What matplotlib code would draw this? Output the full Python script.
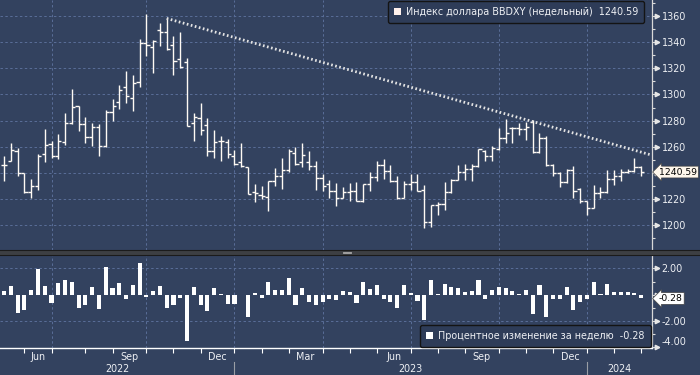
import numpy as np
import pandas as pd
import matplotlib
matplotlib.use('Agg')
import matplotlib.pyplot as plt
import matplotlib.transforms as mtransforms
from matplotlib.patches import Patch, Rectangle
from matplotlib.lines import Line2D

# недельные бары BBDXY, первый бар 13.05.2022
start_date = '2022-05-13'
opens = [1245.6, 1249.2, 1256.5, 1239.7, 1225.0, 1230.1, 1254.5, 1261.9, 1253.0, 1263.4,
         1278.0, 1290.9, 1277.2, 1267.3, 1275.2, 1260.9, 1286.4, 1294.0, 1305.5, 1297.1,
         1309.6, 1339.1, 1336.0, 1349.3, 1348.0, 1337.6, 1326.9, 1325.1, 1278.5, 1281.8,
         1276.4, 1256.5, 1264.2, 1263.4, 1253.0, 1248.1, 1244.1, 1225.5, 1223.2, 1221.4,
         1234.1, 1237.7, 1242.3, 1255.5, 1248.1, 1248.1, 1245.3, 1236.4, 1231.6, 1226.2,
         1221.1, 1225.0, 1226.2, 1218.8, 1231.6, 1236.7, 1246.1, 1241.5, 1233.4, 1221.1,
         1231.6, 1232.9, 1227.0, 1202.5, 1215.0, 1216.0, 1225.0, 1234.6, 1240.5, 1242.8,
         1245.3, 1256.8, 1253.2, 1258.1, 1266.5, 1274.1, 1274.1, 1273.4, 1279.2, 1256.0,
         1267.0, 1245.6, 1239.7, 1232.6, 1241.8, 1227.5, 1218.1, 1213.0, 1224.4, 1225.0,
         1235.1, 1237.7, 1241.0, 1241.5, 1244.6]
highs = [1253.0, 1262.7, 1259.1, 1240.0, 1235.1, 1254.5, 1273.6, 1264.4, 1269.8, 1286.1,
         1304.2, 1291.2, 1282.8, 1278.0, 1277.2, 1288.1, 1296.3, 1307.3, 1318.0, 1314.9,
         1342.2, 1361.5, 1341.7, 1354.4, 1358.2, 1344.7, 1347.8, 1327.6, 1285.6, 1293.2,
         1282.3, 1272.9, 1268.3, 1266.0, 1257.6, 1262.7, 1244.5, 1231.6, 1230.1, 1234.1,
         1243.5, 1251.2, 1258.1, 1259.4, 1262.7, 1256.8, 1248.7, 1239.2, 1234.6, 1232.1,
         1228.8, 1232.3, 1232.9, 1231.6, 1241.0, 1249.4, 1250.4, 1246.1, 1237.2, 1234.1,
         1239.0, 1239.0, 1230.3, 1215.5, 1217.6, 1232.9, 1235.0, 1246.1, 1246.6, 1246.6,
         1258.5, 1257.6, 1260.6, 1274.1, 1281.0, 1275.4, 1278.0, 1279.2, 1280.5, 1270.3,
         1268.3, 1246.9, 1241.0, 1242.8, 1245.3, 1228.3, 1218.8, 1230.8, 1229.5, 1242.3,
         1242.3, 1242.8, 1243.0, 1251.3, 1245.1]
lows = [1233.4, 1248.7, 1237.2, 1224.4, 1221.1, 1227.0, 1247.9, 1251.7, 1250.2, 1261.4,
        1277.5, 1272.3, 1263.2, 1260.6, 1253.2, 1260.1, 1280.0, 1288.9, 1293.8, 1287.6,
        1306.0, 1329.7, 1316.2, 1337.1, 1334.0, 1314.9, 1320.0, 1275.6, 1264.7, 1269.0,
        1253.2, 1251.7, 1249.2, 1251.7, 1245.9, 1244.8, 1223.5, 1217.3, 1219.9, 1210.4,
        1230.1, 1227.8, 1241.0, 1246.3, 1244.8, 1241.8, 1227.0, 1226.2, 1220.6, 1214.3,
        1220.8, 1218.8, 1218.5, 1217.3, 1226.2, 1234.1, 1235.1, 1232.9, 1219.9, 1220.8,
        1227.0, 1225.7, 1197.7, 1198.9, 1207.4, 1211.7, 1224.8, 1234.3, 1234.6, 1234.1,
        1244.8, 1249.2, 1249.2, 1257.6, 1263.2, 1262.7, 1269.0, 1265.2, 1254.9, 1254.9,
        1245.3, 1237.2, 1229.0, 1232.1, 1220.6, 1216.8, 1207.9, 1212.8, 1220.6, 1224.8,
        1230.3, 1234.1, 1239.5, 1240.8, 1237.2]
closes = [1246.1, 1257.3, 1239.7, 1225.0, 1230.1, 1253.0, 1261.4, 1253.2, 1264.4, 1278.0,
          1290.4, 1277.2, 1267.3, 1275.2, 1260.4, 1286.4, 1291.5, 1303.2, 1298.6, 1308.8,
          1339.1, 1337.6, 1340.6, 1348.0, 1335.0, 1325.3, 1321.3, 1275.7, 1282.5, 1272.9,
          1256.5, 1263.4, 1264.0, 1254.5, 1246.6, 1245.3, 1223.9, 1224.7, 1222.4, 1233.4,
          1237.7, 1242.3, 1256.5, 1246.6, 1253.7, 1245.3, 1236.4, 1230.1, 1226.2, 1221.1,
          1225.0, 1226.2, 1218.8, 1231.1, 1236.7, 1246.1, 1241.5, 1233.4, 1221.1, 1231.6,
          1232.9, 1226.2, 1202.5, 1215.0, 1216.0, 1225.0, 1234.6, 1240.5, 1242.8, 1245.3,
          1258.1, 1253.2, 1258.8, 1266.5, 1270.8, 1274.1, 1273.4, 1275.4, 1256.0, 1267.0,
          1245.6, 1239.7, 1232.6, 1241.8, 1226.2, 1218.1, 1213.0, 1224.4, 1225.0, 1235.1,
          1237.7, 1240.3, 1241.5, 1244.4, 1240.59]

# процентное изменение за неделю
pct_change = [0.31, 0.70, -1.38, -1.19, 0.39, 1.95, 0.70, -0.60, 0.91, 1.09,
              1.01, -0.99, -0.78, 0.62, -1.06, 2.10, 0.49, 0.88, -0.29, 0.78,
              2.42, -0.16, 0.26, 0.70, -0.99, -0.78, -0.21, -3.51, 0.57, -0.78,
              -1.22, 0.55, 0.08, -0.68, -0.68, -0.03, -1.69, 0.10, -0.21, 0.94,
              0.34, 0.39, 1.27, -0.78, 0.55, -0.55, -0.78, -0.55, -0.34, -0.39,
              0.29, 0.18, -0.60, 1.01, 0.44, 0.75, -0.29, -0.55, -0.99, 0.75,
              0.10, -0.49, -1.90, 1.09, 0.05, 0.83, 0.62, 0.55, 0.23, 0.29,
              1.09, -0.34, 0.39, 0.62, 0.49, 0.29, 0.05, 0.36, -1.45, 0.75,
              -1.69, -0.34, -0.34, 0.62, -1.19, -0.55, -0.34, 0.94, 0.05, 0.83,
              0.18, 0.23, 0.23, 0.10, -0.28]

# линия тренда: от максимума сентября 2022 до правого края
trend_start_bar = 24
trend_values = [1358.2, 1253.5]

last_close = '1240.59'
last_pct = '-0.28'
top_label = 'Индекс доллара BBDXY (недельный)  1240.59'
bottom_label = 'Процентное изменение за неделю  -0.28'

bg = '#33425f'
grid_c = '#5a6e98'
txt_c = '#eef0f4'
fs = 6.9

dates = pd.date_range(start_date, periods=len(closes), freq='7D')
x = np.arange(len(closes))
x_right = 95.6

fig = plt.figure(figsize=(7, 3.75), dpi=100, facecolor=bg)
ax = fig.add_axes([0, 0.3333, 0.9314, 0.6667], facecolor=bg)
ax2 = fig.add_axes([0, 0.072, 0.9314, 0.2493], facecolor=bg)

# первые бары месяцев
month_first = [i for i in range(1, len(dates)) if dates[i].month != dates[i - 1].month]
quarter_first = [i for i in month_first if dates[i].month in (1, 4, 7, 10)]
year_first = [i for i in month_first if dates[i].month == 1]

dash = (0, (2.5, 2.5))
for a in (ax, ax2):
    a.set_xlim(-0.6, x_right)
    for q in quarter_first:
        a.axvline(q, color=grid_c, lw=0.7, ls=dash, zorder=0)
    for s in ['left', 'top', 'bottom']:
        a.spines[s].set_visible(False)
    a.spines['right'].set_color('#d8d8d8')
    a.spines['right'].set_linewidth(0.9)
    a.yaxis.tick_right()

# --- верхняя панель: OHLC ---
ax.set_ylim(1180.9, 1372.3)
for v in range(1200, 1361, 20):
    ax.axhline(v, color=grid_c, lw=0.7, ls=dash, zorder=0)
bar_c = '#fffaf4'
ax.vlines(x, lows, highs, color=bar_c, lw=1.0, zorder=3)
ax.hlines(opens, x - 0.47, x, color=bar_c, lw=1.0, zorder=3)
ax.hlines(closes, x, x + 0.47, color=bar_c, lw=1.0, zorder=3)
ax.plot([trend_start_bar, x_right], trend_values, color='#e4e4e4', lw=2.0,
        ls=(0, (0.6, 0.9)), zorder=4, clip_on=False)

ax.set_xticks([])
yt = list(range(1200, 1361, 20))
ax.set_yticks(yt)
ax.set_yticklabels(['' if v == 1240 else str(v) for v in yt])
ax.set_yticks(list(range(1190, 1371, 10)), minor=True)
ax.tick_params(axis='y', which='major', length=3, width=0.8, color='#dddddd',
               labelcolor=txt_c, labelsize=fs, pad=4)
ax.tick_params(axis='y', which='minor', length=2.5, width=0.8, color='#dddddd')
tri = mtransforms.offset_copy(mtransforms.blended_transform_factory(ax.transAxes, ax.transData),
                              fig=fig, x=5, y=0, units='dots')
ax.plot([1] * len(yt), yt, ls='none', marker='>', ms=3.2, color='#e6e6e6',
        transform=tri, clip_on=False)

ax.annotate(last_close, xy=(1, float(last_close)), xycoords=('axes fraction', 'data'),
            xytext=(5, 0), textcoords='offset points', ha='left', va='center',
            fontsize=6.7, color='black', annotation_clip=False,
            bbox=dict(boxstyle='larrow,pad=0.15', fc='#fff7ec', ec='#444444', lw=0.5))

leg = ax.legend(handles=[Patch(fc='#fff1ec', ec='none')], labels=[top_label],
                loc='upper right', bbox_to_anchor=(0.988, 0.995), borderaxespad=0,
                fontsize=fs, frameon=True, fancybox=True, framealpha=1,
                facecolor='#2e3c58', edgecolor='#141414', labelcolor=txt_c,
                handlelength=0.75, handleheight=0.75, handletextpad=0.55, borderpad=0.6)
leg.get_frame().set_linewidth(1.0)

# --- нижняя панель: % изменение ---
ax2.set_ylim(-4.04, 3.06)
for v in (2, -2):
    ax2.axhline(v, color=grid_c, lw=0.7, ls=dash, zorder=0)
ax2.bar(x, pct_change, width=0.6, color='white', zorder=3)
ax2.spines['bottom'].set_visible(True)
ax2.spines['bottom'].set_color('white')
ax2.spines['bottom'].set_linewidth(1.0)

yt2 = [2, 0, -2, -4]
ax2.set_yticks(yt2)
ax2.set_yticklabels(['2.00', '', '-2.00', '-4.00'])
ax2.set_yticks([1, -1, -3], minor=True)
ax2.tick_params(axis='y', which='major', length=3, width=0.8, color='#dddddd',
                labelcolor=txt_c, labelsize=fs, pad=4)
ax2.tick_params(axis='y', which='minor', length=2.5, width=0.8, color='#dddddd')
ax2.get_yticklabels()[-1].set_verticalalignment('bottom')
tri2 = mtransforms.offset_copy(mtransforms.blended_transform_factory(ax2.transAxes, ax2.transData),
                               fig=fig, x=5, y=0, units='dots')
ax2.plot([1] * len(yt2), yt2, ls='none', marker='>', ms=3.2, color='#e6e6e6',
         transform=tri2, clip_on=False)

ax2.annotate(last_pct, xy=(1, float(last_pct)), xycoords=('axes fraction', 'data'),
             xytext=(5, 0), textcoords='offset points', ha='left', va='center',
             fontsize=6.7, color='black', annotation_clip=False, zorder=10,
             bbox=dict(boxstyle='larrow,pad=0.15', fc='white', ec='#444444', lw=0.5))

leg2 = ax2.legend(handles=[Patch(fc='white', ec='none')], labels=[bottom_label],
                  loc='lower right', bbox_to_anchor=(0.998, 0.015), borderaxespad=0,
                  fontsize=fs, frameon=True, fancybox=True, framealpha=1,
                  facecolor='#2e3c58', edgecolor='#141414', labelcolor=txt_c,
                  handlelength=0.75, handleheight=0.75, handletextpad=0.55, borderpad=0.6)
leg2.get_frame().set_linewidth(1.0)

# ось X: риски на первых барах месяцев, подписи по кварталам
ax2.set_xticks(month_first)
ax2.set_xticklabels([])
ax2.tick_params(axis='x', length=3.5, width=0.8, color='white', direction='out')
tx = mtransforms.blended_transform_factory(ax2.transData, ax2.transAxes)
for k, i in enumerate(month_first[:-1]):
    if dates[i].month in (3, 6, 9, 12):
        mid = (i + month_first[k + 1]) / 2
        ax2.text(mid, -0.1, dates[i].strftime('%b'), transform=tx, ha='center',
                 va='center', fontsize=fs, color=txt_c)
edges = [-0.6] + year_first + [x_right]
years = [dates[0].year] + [dates[i].year for i in year_first]
for k, yr in enumerate(years):
    ax2.text((edges[k] + edges[k + 1]) / 2, -0.225, str(yr), transform=tx,
             ha='center', va='center', fontsize=fs, color=txt_c)
for i in year_first:
    ax2.plot([i, i], [-0.15, -0.3], transform=tx, color='#9a9ea6', lw=0.8, clip_on=False)

# разделитель панелей
fig.patches.append(Rectangle((0, 0.3213), 1, 0.012, transform=fig.transFigure,
                             fc='#3d3f43', ec='none', zorder=5))
for yy in (0.3213, 0.3333):
    fig.add_artist(Line2D([0, 1], [yy, yy], color='#1b1b1b', lw=0.8, zorder=6))
for yy in (0.3253, 0.3293):
    fig.add_artist(Line2D([0.490, 0.502], [yy, yy], color='#b0b0b0', lw=0.6, zorder=7))

fig.savefig('out.png', dpi=100, facecolor=bg)
